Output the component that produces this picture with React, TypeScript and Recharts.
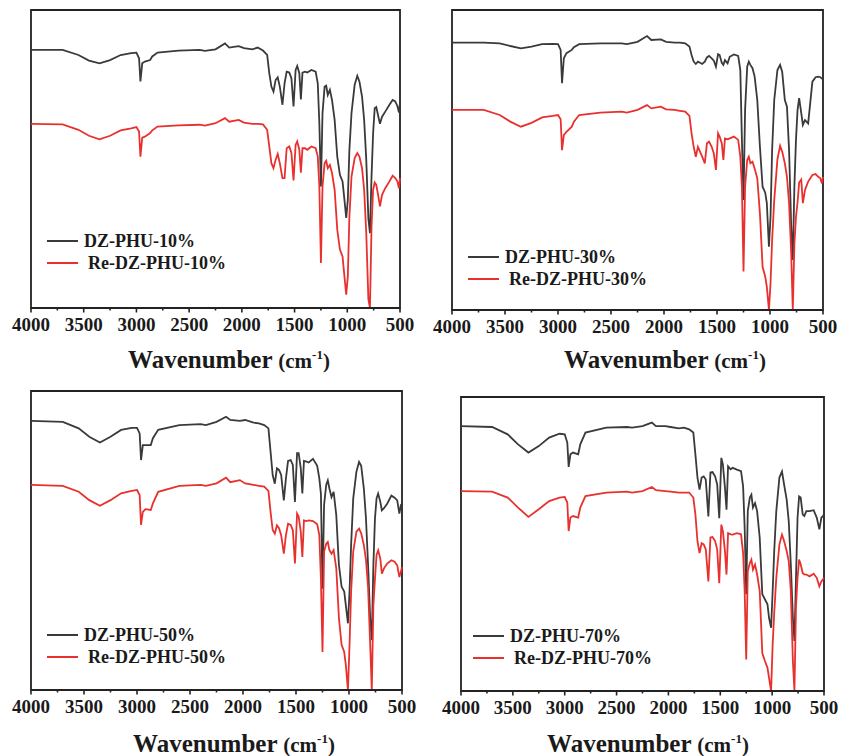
import { LineChart, Line, XAxis, YAxis, ReferenceArea } from "recharts";

// Shared wavenumber grid (cm-1), high to low
const WAVENUMBERS = [
  4000, 3700, 3550, 3450, 3350, 3250, 3150, 3050, 3000, 2975, 2962, 2945, 2920, 2870, 2850, 2800,
  2600, 2400, 2350, 2250, 2160, 2120, 2030, 1980, 1900, 1850, 1800, 1760,
  1740, 1720, 1700, 1680, 1660, 1640, 1615, 1595, 1575, 1550, 1530, 1510, 1490, 1475, 1455, 1440, 1425, 1400, 1380, 1340, 1300, 1280,
  1265, 1250, 1235, 1215, 1200, 1185, 1165, 1145, 1120, 1095, 1070, 1045, 1030, 1010, 995, 980, 960, 930,
  905, 885, 860, 840, 820, 800, 785, 770, 755, 740, 725, 705, 690, 670, 640, 600, 570, 545, 525, 510, 500,
];

// Transmittance (a.u., offset for display)
const DZ_PHU_10 = [
  86.6, 86.6, 84.9, 83.0, 82.1, 83.2, 84.9, 85.5, 85.7, 83.8, 76.0, 82.1, 82.7, 83.2, 84.4, 85.7,
  86.4, 86.6, 86.3, 86.8, 88.8, 87.4, 87.9, 87.2, 86.8, 87.4, 86.4, 84.9,
  78.8, 74.3, 72.6, 76.5, 77.4, 74.3, 68.2, 75.4, 79.3, 79.0, 77.1, 67.6, 79.9, 81.2, 78.8, 70.0, 79.0, 79.3, 79.0, 79.9, 79.3, 75.4,
  62.0, 40.8, 65.4, 74.3, 74.6, 71.5, 73.2, 69.8, 63.1, 50.8, 44.7, 42.5, 37.4, 30.2, 36.3, 53.1, 65.4, 74.9,
  77.9, 76.0, 70.9, 63.1, 49.7, 30.0, 25.1, 44.1, 58.7, 67.0, 67.4, 64.2, 61.8, 64.2, 65.9, 68.2, 69.8, 69.3, 67.8, 65.6, 68.9,
];
const RE_DZ_PHU_10 = [
  61.8, 61.6, 59.8, 57.8, 56.6, 57.8, 59.6, 60.3, 60.7, 59.2, 50.8, 57.2, 57.5, 58.7, 59.6, 60.9,
  61.3, 61.5, 61.2, 62.0, 63.7, 62.5, 63.1, 62.2, 61.8, 61.8, 61.6, 59.8,
  54.2, 48.6, 46.9, 49.7, 51.7, 48.6, 43.6, 43.6, 53.6, 54.2, 52.0, 42.8, 54.7, 55.9, 53.1, 45.4, 53.6, 53.6, 53.1, 54.2, 53.6, 50.8,
  40.8, 15.1, 40.8, 48.6, 49.4, 46.9, 48.0, 45.3, 39.7, 26.3, 19.6, 17.3, 11.7, 4.5, 10.6, 30.7, 44.1, 50.3,
  52.0, 50.8, 46.9, 39.7, 25.1, 3.0, 0.0, 27.4, 39.7, 42.1, 41.3, 37.4, 34.1, 38.0, 40.2, 42.5, 44.4, 43.6, 42.5, 40.2, 43.6,
];
const DZ_PHU_30 = [
  89.1, 89.1, 88.9, 88.0, 87.2, 87.8, 88.6, 88.7, 88.6, 86.7, 75.6, 83.9, 85.6, 86.7, 87.6, 88.6,
  88.9, 88.9, 88.6, 89.4, 91.3, 90.0, 90.2, 89.4, 89.1, 89.1, 88.9, 87.8,
  85.0, 82.8, 82.0, 82.8, 82.4, 82.0, 82.8, 84.2, 84.7, 83.9, 83.1, 81.1, 85.3, 85.0, 82.4, 81.7, 83.3, 82.2, 84.4, 85.2, 84.7, 80.0,
  56.7, 36.7, 66.7, 81.1, 82.8, 81.7, 80.6, 77.8, 70.0, 54.4, 41.1, 39.1, 35.6, 21.1, 31.1, 53.3, 70.0, 80.0,
  81.7, 79.4, 70.0, 67.8, 53.3, 27.8, 16.7, 41.1, 56.7, 66.7, 70.6, 65.6, 61.7, 63.3, 62.2, 76.1, 77.6, 77.8, 77.6, 77.1, 77.1,
];
const RE_DZ_PHU_30 = [
  66.7, 66.7, 65.0, 62.8, 61.1, 62.4, 64.2, 64.7, 65.0, 63.6, 53.3, 58.3, 59.4, 61.1, 62.8, 65.0,
  65.8, 66.1, 65.8, 66.7, 68.3, 67.2, 67.8, 66.9, 66.7, 66.4, 66.1, 64.7,
  58.9, 54.4, 51.1, 54.4, 52.8, 51.1, 48.9, 55.6, 56.1, 54.4, 52.2, 46.7, 58.9, 57.8, 55.6, 50.0, 57.2, 56.9, 57.2, 57.8, 56.7, 51.1,
  41.1, 12.8, 41.1, 50.0, 51.1, 48.9, 49.4, 47.2, 43.9, 32.2, 14.4, 11.1, 7.8, 0.0, 8.9, 23.3, 36.7, 50.2,
  54.7, 52.8, 48.9, 44.4, 35.6, 18.9, 0.0, 22.0, 31.0, 36.0, 42.5, 43.5, 35.6, 40.0, 42.8, 45.0, 45.3, 44.4, 43.9, 42.2, 44.4,
];
const DZ_PHU_50 = [
  90.0, 89.7, 87.5, 84.7, 82.8, 84.7, 87.0, 87.7, 87.7, 85.8, 76.9, 81.9, 81.9, 81.9, 84.2, 87.0,
  88.6, 88.9, 88.6, 89.7, 91.4, 90.3, 90.0, 90.3, 89.4, 89.2, 88.6, 87.5,
  79.7, 71.9, 69.0, 74.1, 73.6, 71.9, 63.4, 70.8, 76.6, 76.9, 75.3, 62.9, 79.2, 79.2, 74.1, 65.7, 76.6, 76.4, 76.1, 77.3, 75.0, 70.8,
  65.7, 33.9, 61.9, 68.6, 70.1, 67.4, 64.5, 66.3, 58.5, 41.8, 34.6, 32.9, 28.4, 22.3, 32.9, 48.5, 64.1, 73.0,
  76.3, 75.0, 67.4, 57.5, 41.8, 24.0, 16.7, 41.8, 57.4, 64.1, 65.7, 63.0, 60.1, 60.8, 62.3, 65.0, 64.3, 63.4, 59.0, 61.9, 62.3,
];
const RE_DZ_PHU_50 = [
  68.6, 68.3, 66.3, 63.5, 61.6, 63.5, 65.8, 66.6, 66.9, 65.2, 55.2, 59.6, 60.5, 60.2, 62.4, 66.3,
  68.3, 68.6, 68.3, 69.1, 71.0, 69.5, 70.2, 69.1, 68.6, 68.3, 68.0, 66.6,
  59.6, 53.5, 52.3, 55.1, 54.1, 51.8, 45.6, 51.8, 55.6, 55.2, 53.5, 42.3, 59.0, 58.0, 53.0, 44.5, 56.7, 56.5, 56.7, 56.5, 55.4, 51.8,
  37.3, 12.7, 46.3, 48.9, 49.5, 46.8, 45.6, 46.8, 40.7, 24.0, 15.1, 12.7, 8.4, 0.0, 15.1, 32.9, 46.3, 53.0,
  54.0, 52.4, 48.5, 43.5, 34.4, 15.1, 0.0, 28.4, 37.3, 45.2, 46.7, 44.0, 38.9, 40.7, 42.3, 43.4, 42.9, 41.7, 37.8, 39.6, 41.1,
];
const DZ_PHU_70 = [
  90.1, 89.8, 87.3, 83.9, 81.1, 83.3, 86.2, 87.5, 87.3, 84.5, 76.2, 80.5, 81.1, 80.5, 83.9, 87.9,
  89.6, 89.8, 89.6, 90.1, 91.3, 90.1, 90.1, 89.8, 89.3, 89.6, 89.0, 87.9,
  80.5, 72.6, 68.5, 72.6, 73.0, 71.9, 59.4, 74.3, 74.5, 73.0, 70.3, 58.8, 79.3, 77.1, 69.2, 61.7, 76.4, 75.4, 75.9, 75.3, 74.8, 69.6,
  55.6, 32.9, 61.2, 65.8, 66.8, 62.4, 63.9, 61.2, 52.2, 32.9, 31.2, 29.5, 24.9, 21.5, 34.0, 47.6, 61.2, 72.6,
  74.7, 70.3, 65.1, 57.8, 43.1, 24.9, 17.0, 38.5, 59.0, 66.2, 65.8, 60.0, 59.5, 61.2, 61.2, 61.5, 59.0, 55.0, 59.0, 59.5, 60.1,
];
const RE_DZ_PHU_70 = [
  68.0, 67.8, 65.8, 62.4, 59.2, 61.8, 64.6, 65.8, 66.0, 64.1, 54.4, 59.0, 59.5, 59.0, 62.4, 66.3,
  67.5, 67.8, 67.5, 68.0, 69.4, 68.3, 68.0, 67.8, 67.5, 67.5, 67.5, 65.8,
  60.1, 51.0, 46.9, 50.3, 49.9, 48.2, 37.3, 52.2, 52.4, 51.0, 48.2, 36.7, 56.6, 54.4, 47.6, 39.6, 53.7, 53.3, 53.2, 53.7, 53.3, 46.9,
  34.0, 10.7, 40.8, 43.5, 44.7, 41.3, 43.0, 39.7, 34.0, 12.9, 10.2, 7.9, 4.5, 0.0, 15.9, 26.5, 38.5, 49.9,
  53.2, 51.0, 47.6, 44.2, 34.0, 10.2, 0.0, 28.8, 38.5, 44.7, 43.1, 40.1, 39.7, 39.6, 39.0, 39.9, 38.5, 35.6, 37.3, 38.0, 38.5,
];

const SAMPLE_LABELS = ["DZ-PHU-10%", "DZ-PHU-30%", "DZ-PHU-50%", "DZ-PHU-70%"];
const RECYCLED_LABELS = ["Re-DZ-PHU-10%", "Re-DZ-PHU-30%", "Re-DZ-PHU-50%", "Re-DZ-PHU-70%"];
const X_TICKS = [4000, 3750, 3500, 3250, 3000, 2750, 2500, 2250, 2000, 1750, 1500, 1250, 1000, 750, 500];

const FONT = '"Liberation Serif", "Times New Roman", serif';
const FRAME = "#222";
const BLACK = "#3a3a3a";
const RED = "#e8312e";

// plot box, legend anchor and axis title placement per panel
const PANELS = [
  { dz: DZ_PHU_10, re: RE_DZ_PHU_10, plot: { x: 31, y: 10, w: 369, h: 298 }, legend: { x: 47, y: 241 }, title: { x: 229, y: 346 } },
  { dz: DZ_PHU_30, re: RE_DZ_PHU_30, plot: { x: 452, y: 10, w: 371, h: 300 }, legend: { x: 468, y: 257 }, title: { x: 665, y: 346 } },
  { dz: DZ_PHU_50, re: RE_DZ_PHU_50, plot: { x: 31, y: 391, w: 371, h: 299 }, legend: { x: 47, y: 635 }, title: { x: 234, y: 730 } },
  { dz: DZ_PHU_70, re: RE_DZ_PHU_70, plot: { x: 461, y: 397, w: 363, h: 294 }, legend: { x: 473, y: 636 }, title: { x: 648, y: 730 } },
];

const M_TOP = 4;
const M_SIDE = 26;
const AXIS_H = 40;

function WaveTick({ x, y, payload }: any) {
  const major = payload.value % 500 === 0;
  return (
    <g>
      <line x1={x} x2={x} y1={y} y2={y + (major ? 4.5 : 2.5)} stroke={FRAME} strokeWidth={1.6} />
      {major && (
        <text x={x} y={y + 23} textAnchor="middle" fontFamily={FONT} fontWeight="bold" fontSize={19} fill="#1a1a1a">
          {payload.value}
        </text>
      )}
    </g>
  );
}

function LegendRow({ x, y, color, label, textGap }: any) {
  return (
    <div style={{ position: "absolute", left: x, top: y - 11, height: 22, display: "flex", alignItems: "center", whiteSpace: "nowrap" }}>
      <div style={{ width: 31, height: 2, background: color }} />
      <span style={{ marginLeft: textGap, fontFamily: FONT, fontWeight: "bold", fontSize: 18, color: "#1a1a1a" }}>{label}</span>
    </div>
  );
}

function Panel({ idx }: { idx: number }) {
  const p = PANELS[idx];
  const rows = WAVENUMBERS.map((wn, i) => ({ wn, dz: p.dz[i], re: p.re[i] }));
  return (
    <>
      <div style={{ position: "absolute", left: p.plot.x - M_SIDE, top: p.plot.y - M_TOP }}>
        <LineChart
          width={p.plot.w + 2 * M_SIDE}
          height={p.plot.h + M_TOP + AXIS_H}
          data={rows}
          margin={{ top: M_TOP, right: M_SIDE, left: M_SIDE, bottom: 0 }}
        >
          <XAxis
            type="number"
            dataKey="wn"
            domain={[500, 4000]}
            reversed
            ticks={X_TICKS}
            interval={0}
            height={AXIS_H}
            tickLine={false}
            tickSize={0}
            tickMargin={0}
            axisLine={{ stroke: FRAME, strokeWidth: 1.8 }}
            tick={<WaveTick />}
          />
          <YAxis hide domain={[0, 100]} />
          <ReferenceArea x1={4000} x2={500} y1={0} y2={100} fill="none" stroke={FRAME} strokeWidth={1.8} />
          <Line type="linear" dataKey="dz" stroke={BLACK} strokeWidth={1.8} dot={false} isAnimationActive={false} />
          <Line type="linear" dataKey="re" stroke={RED} strokeWidth={1.8} dot={false} isAnimationActive={false} />
        </LineChart>
      </div>
      <LegendRow x={p.legend.x} y={p.legend.y} color={BLACK} label={SAMPLE_LABELS[idx]} textGap={6} />
      <LegendRow x={p.legend.x} y={p.legend.y + 22} color={RED} label={RECYCLED_LABELS[idx]} textGap={10} />
      <div
        style={{
          position: "absolute",
          left: p.title.x,
          top: p.title.y,
          transform: "translateX(-50%)",
          whiteSpace: "nowrap",
          fontFamily: FONT,
          fontWeight: "bold",
          fontSize: 25,
          lineHeight: "28px",
          color: "#1a1a1a",
        }}
      >
        Wavenumber <span style={{ fontSize: 21 }}>(cm<span style={{ fontSize: 13, position: "relative", top: -9 }}>-1</span>)</span>
      </div>
    </>
  );
}

export default function App() {
  return (
    <div style={{ position: "absolute", left: 0, top: 0, width: 842, height: 756, background: "#fff" }}>
      {PANELS.map((_, i) => (
        <Panel key={i} idx={i} />
      ))}
    </div>
  );
}
